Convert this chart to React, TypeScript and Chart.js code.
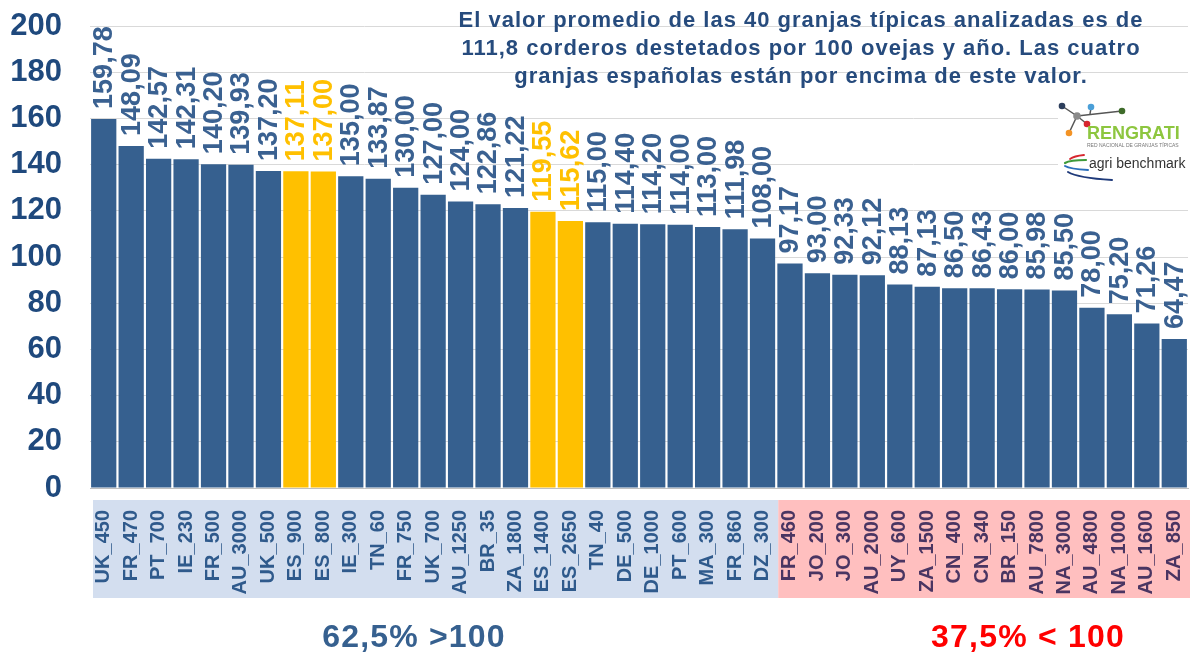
import React, { useEffect, useRef } from "react";
import { Chart, registerables } from "chart.js";
Chart.register(...registerables);

const categories = ["UK_450","FR_470","PT_700","IE_230","FR_500","AU_3000","UK_500","ES_900","ES_800","IE_300","TN_60","FR_750","UK_700","AU_1250","BR_35","ZA_1800","ES_1400","ES_2650","TN_40","DE_500","DE_1000","PT_600","MA_300","FR_860","DZ_300","FR_460","JO_200","JO_300","AU_2000","UY_600","ZA_1500","CN_400","CN_340","BR_150","AU_7800","NA_3000","AU_4800","NA_1000","AU_1600","ZA_850"];
const values = [159.78,148.09,142.57,142.31,140.20,139.93,137.20,137.11,137.00,135.00,133.87,130.00,127.00,124.00,122.86,121.22,119.55,115.62,115.00,114.40,114.20,114.00,113.00,111.98,108.00,97.17,93.00,92.33,92.12,88.13,87.13,86.50,86.43,86.00,85.98,85.50,78.00,75.20,71.26,64.47];
const spanishFarms = ["ES_900","ES_800","ES_1400","ES_2650"];
const yTicks = [0,20,40,60,80,100,120,140,160,180,200];
const titleLines = [
  "El valor promedio de las 40 granjas típicas analizadas es de",
  "111,8 corderos destetados por 100 ovejas y año. Las cuatro",
  "granjas españolas están por encima de este valor.",
];
const leftNote = "62,5% >100";
const rightNote = "37,5% < 100";
const threshold = 100;

const BLUE = "#36608F";
const YELLOW = "#FFC000";
const FONT = "Arial, 'Liberation Sans', sans-serif";

const fmt = (v: number) => v.toFixed(2).replace(".", ",");
const isES = (c: string) => spanishFarms.includes(c);

const decorPlugin = {
  id: "decor",
  beforeDraw(chart: any) {
    const ctx = chart.ctx;
    const x = chart.scales.x;
    const n = categories.length;
    const split = values.findIndex((v) => v < threshold);
    const half = (x.getPixelForValue(1) - x.getPixelForValue(0)) / 2;
    const left = x.getPixelForValue(0) - half + 3;
    const mid = x.getPixelForValue(split) - half + 2;
    const right = x.getPixelForValue(n - 1) + half + 2;
    ctx.save();
    ctx.fillStyle = "#D3DEEF";
    ctx.fillRect(left, 500, mid - left, 98);
    ctx.fillStyle = "#FFBFBF";
    ctx.fillRect(mid, 500, right - mid, 98);
    ctx.restore();
  },
  afterDraw(chart: any) {
    const ctx = chart.ctx;
    const x = chart.scales.x;
    const y = chart.scales.y;
    ctx.save();
    // value labels
    ctx.font = `bold 27px ${FONT}`;
    ctx.textAlign = "left";
    ctx.textBaseline = "middle";
    values.forEach((v, i) => {
      const px = x.getPixelForValue(i);
      const py = y.getPixelForValue(v) - 10;
      ctx.save();
      ctx.translate(px + 1, py);
      ctx.rotate(-Math.PI / 2);
      ctx.fillStyle = isES(categories[i]) ? YELLOW : "#3A6191";
      ctx.fillText(fmt(v), 0, 0);
      ctx.restore();
    });
    // title
    ctx.font = `bold 22px ${FONT}`;
    (ctx as any).letterSpacing = "1px";
    ctx.textAlign = "center";
    ctx.textBaseline = "middle";
    ctx.fillStyle = "#264B7D";
    titleLines.forEach((t, i) => ctx.fillText(t, 801, 21 + i * 28));
    // bottom notes
    ctx.font = `bold 32px ${FONT}`;
    (ctx as any).letterSpacing = "1.2px";
    ctx.fillStyle = "#36608F";
    ctx.fillText(leftNote, 414, 638);
    ctx.fillStyle = "#FF0000";
    ctx.fillText(rightNote, 1028, 638);
    (ctx as any).letterSpacing = "0px";
    // logo background
    ctx.fillStyle = "#FFFFFF";
    ctx.fillRect(1058, 97, 132, 89);
    // RENGRATI logo
    const c = { x: 1077, y: 116 };
    ctx.lineWidth = 1.5;
    ctx.strokeStyle = "#555";
    const line = (a: number[], b: number[]) => { ctx.beginPath(); ctx.moveTo(a[0], a[1]); ctx.lineTo(b[0], b[1]); ctx.stroke(); };
    line([1062, 106], [c.x, c.y]);
    line([c.x, c.y], [1069, 133]);
    line([c.x, c.y], [1087, 124]);
    line([c.x, c.y], [1122, 111]);
    line([1091, 108], [1090, 114]);
    const dot = (px: number, py: number, col: string, r = 3.3) => { ctx.beginPath(); ctx.fillStyle = col; ctx.arc(px, py, r, 0, Math.PI * 2); ctx.fill(); };
    dot(1062, 106, "#2C3E5C");
    dot(c.x, c.y, "#8A8A8A", 3.8);
    dot(1091, 107, "#4A9FD8");
    dot(1122, 111, "#3E6B2A");
    dot(1087, 124, "#D7262E");
    dot(1069, 133, "#F39325");
    ctx.font = `bold 18px ${FONT}`;
    ctx.textAlign = "left";
    ctx.textBaseline = "alphabetic";
    ctx.fillStyle = "#8DC63F";
    ctx.fillText("RENGRATI", 1087, 139);
    ctx.font = `5px ${FONT}`;
    ctx.fillStyle = "#777";
    ctx.fillText("RED NACIONAL DE GRANJAS TÍPICAS", 1087, 147);
    // agri benchmark logo (swooshes)
    const sw = (col: string, x0: number, y0: number, cx: number, cy: number, x1: number, y1: number, w: number) => {
      ctx.beginPath();
      ctx.strokeStyle = col;
      ctx.lineWidth = w;
      ctx.lineCap = "round";
      ctx.moveTo(x0, y0);
      ctx.quadraticCurveTo(cx, cy, x1, y1);
      ctx.stroke();
    };
    sw("#D7262E", 1084, 155, 1074, 156, 1070, 159, 1.8);
    sw("#3E9A3A", 1086, 160, 1070, 160, 1065, 163, 2.2);
    sw("#2A6EBB", 1065, 166, 1070, 169, 1088, 170, 2);
    sw("#1F3A7A", 1068, 172, 1078, 178, 1112, 180, 2);
    ctx.font = `14px ${FONT}`;
    ctx.fillStyle = "#333";
    ctx.fillText("agri benchmark", 1089, 168);
    ctx.restore();
  },
};

export default function App() {
  const ref = useRef<HTMLCanvasElement | null>(null);
  useEffect(() => {
    document.body.style.margin = "0";
    const chart = new Chart(ref.current as HTMLCanvasElement, {
      type: "bar",
      data: {
        labels: categories,
        datasets: [
          {
            data: values,
            backgroundColor: categories.map((c) => (isES(c) ? YELLOW : BLUE)),
            borderWidth: 0,
            barPercentage: 0.92,
            categoryPercentage: 1.0,
          },
        ],
      },
      options: {
        responsive: false,
        animation: false,
        events: [],
        layout: { padding: { top: 26, right: 2, left: 0, bottom: 57 } },
        plugins: { legend: { display: false }, tooltip: { enabled: false }, title: { display: false } },
        scales: {
          x: {
            grid: { display: false },
            border: { display: true, color: "#BFBFBF", width: 1 },
            afterFit: (s: any) => { s.height = 110; s.paddingLeft = 0; s.paddingRight = 0; },
            ticks: {
              autoSkip: false,
              minRotation: 90,
              maxRotation: 90,
              padding: 14,
              font: { family: FONT, size: 20, weight: "bold" },
              color: (ctx: any) => (values[ctx.index] < threshold ? "#4A3562" : "#2F5A8C"),
            },
          },
          y: {
            min: 0,
            max: 200,
            afterFit: (s: any) => { s.width = 90; s.paddingTop = 0; s.paddingBottom = 0; },
            afterBuildTicks: (s: any) => { s.ticks = yTicks.map((v) => ({ value: v })); },
            grid: { color: "#D9D9D9", drawTicks: false },
            border: { display: false },
            ticks: {
              padding: 28,
              font: { family: FONT, size: 31, weight: "bold" },
              color: "#1F497D",
            },
          },
        },
      },
      plugins: [decorPlugin],
    });
    return () => chart.destroy();
  }, []);
  return (
    <div style={{ position: "fixed", left: 0, top: 0, width: 1190, height: 655, background: "#fff" }}>
      <canvas ref={ref} width={1190} height={655} style={{ width: 1190, height: 655 }} />
    </div>
  );
}
